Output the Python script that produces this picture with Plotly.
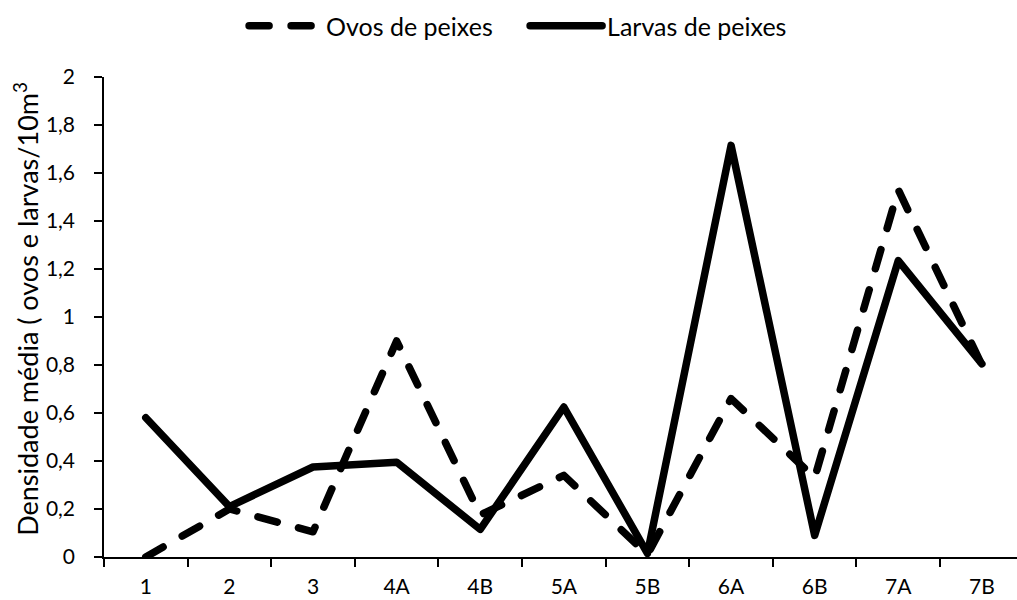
import plotly.graph_objects as go

categorias = ["1", "2", "3", "4A", "4B", "5A", "5B", "6A", "6B", "7A", "7B"]
ovos = [0.0, 0.2, 0.105, 0.9, 0.175, 0.34, 0.01, 0.66, 0.33, 1.53, 0.8]
larvas = [0.58, 0.21, 0.375, 0.395, 0.115, 0.625, 0.015, 1.715, 0.09, 1.235, 0.805]
titulo_y = "Densidade média ( ovos e larvas/10m<sup>3</sup>"

FONT = "Lato, 'Open Sans', sans-serif"

fig = go.Figure()
fig.add_trace(go.Scatter(
    x=categorias, y=ovos, mode="lines", name="Ovos de peixes",
    line=dict(color="black", width=7.5, dash="20px,22px"),
))
fig.add_trace(go.Scatter(
    x=categorias, y=larvas, mode="lines", name="Larvas de peixes",
    line=dict(color="black", width=7.5),
))

fig.update_layout(
    width=1017, height=600,
    paper_bgcolor="white", plot_bgcolor="white",
    margin=dict(l=104, r=0, t=77, b=43),
    font=dict(family=FONT, size=21, color="black"),
    separators=",.",
    showlegend=True,
    legend=dict(orientation="h", xref="container", x=0.24, xanchor="left",
                yref="container", y=0.995, yanchor="top",
                itemwidth=72, entrywidth=194, font=dict(size=25)),
)

fig.update_xaxes(
    type="category", range=[-0.5, 10.42],
    showline=True, linecolor="black", linewidth=1.5,
    ticks="outside", tickson="boundaries", ticklen=8, tickcolor="black", tickwidth=1.5,
    ticklabelstandoff=10, tickfont=dict(size=21),
    showgrid=False, zeroline=False, automargin=False,
)
fig.update_yaxes(
    range=[0, 2], dtick=0.2, tick0=0,
    showline=True, linecolor="black", linewidth=1.5,
    ticks="outside", ticklen=8, tickcolor="black", tickwidth=1.5,
    ticklabelstandoff=15,
    showgrid=False, zeroline=False, automargin=False,
)
fig.add_annotation(
    text=titulo_y, textangle=-90, showarrow=False,
    xref="paper", x=0, xshift=-78, xanchor="center",
    yref="paper", y=0.517, yanchor="middle",
    font=dict(size=27),
)

post = """
var s=document.createElement('style');
s.textContent='body{margin:0 !important;} path.js-line{stroke-linecap:round !important;stroke-linejoin:round !important;}';
document.head.appendChild(s);
document.querySelectorAll('path.js-line').forEach(function(p){
  p.setAttribute('stroke-linecap','round'); p.setAttribute('stroke-linejoin','round');
  p.style.setProperty('stroke-linecap','round','important');
  p.style.setProperty('stroke-linejoin','round','important');
});
"""
fig.write_html("out.html", post_script=post, config={"displayModeBar": False})
